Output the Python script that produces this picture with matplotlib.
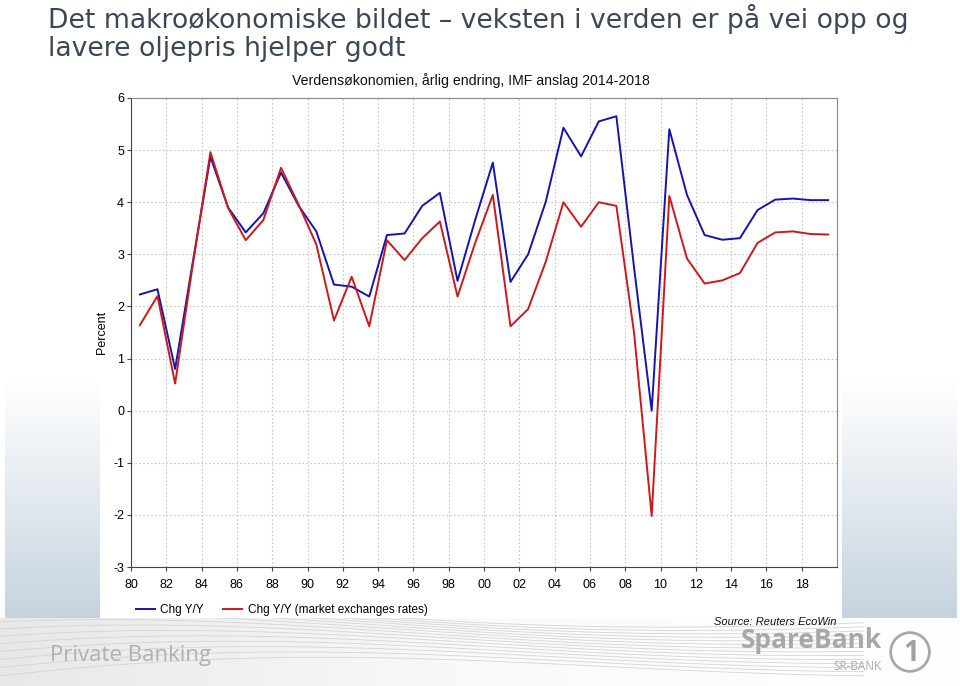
import numpy as np
import matplotlib
matplotlib.use("Agg")
import matplotlib.pyplot as plt
from matplotlib.patches import Circle
from matplotlib.lines import Line2D
from matplotlib.colors import LinearSegmentedColormap

years = list(range(1980, 2020))
chg_yy = [2.23, 2.33, 0.80, 2.85, 4.87, 3.90, 3.42, 3.79, 4.57, 3.93,
          3.44, 2.42, 2.38, 2.19, 3.37, 3.40, 3.93, 4.18, 2.49, 3.66,
          4.76, 2.47, 3.00, 4.01, 5.43, 4.88, 5.55, 5.65, 2.75, 0.00,
          5.40, 4.14, 3.37, 3.28, 3.31, 3.85, 4.05, 4.07, 4.04, 4.04]
chg_yy_mkt = [1.64, 2.20, 0.52, 2.80, 4.96, 3.89, 3.27, 3.66, 4.66, 3.95,
              3.19, 1.73, 2.57, 1.62, 3.27, 2.89, 3.31, 3.63, 2.19, 3.22,
              4.14, 1.62, 1.95, 2.86, 4.00, 3.53, 4.00, 3.93, 1.50, -2.02,
              4.12, 2.92, 2.44, 2.50, 2.64, 3.22, 3.42, 3.44, 3.39, 3.38]
tick_years = list(range(1980, 2019, 2))
tick_labels = [f"{y % 100:02d}" for y in tick_years]
y_ticks = list(range(-3, 7))

series_names = ["Chg Y/Y", "Chg Y/Y (market exchanges rates)"]
title = "Det makroøkonomiske bildet – veksten i verden er på vei opp og\nlavere oljepris hjelper godt"
subtitle = "Verdensøkonomien, årlig endring, IMF anslag 2014-2018"

NARROW = ["Liberation Sans Narrow", "Liberation Sans", "DejaVu Sans"]
BLUE = "#1414b4"
RED = "#d01818"

fig = plt.figure(figsize=(9.6, 6.86), dpi=100)
fig.patch.set_facecolor("white")


def grad_panel(x0, x1, y0, y1):
    grad = np.linspace(0, 1, 256).reshape(-1, 1)
    cm = LinearSegmentedColormap.from_list("g", ["#c6d3df", "#ffffff"])
    ax_bg = fig.add_axes([x0 / 960, 1 - y1 / 686, (x1 - x0) / 960, (y1 - y0) / 686], zorder=0)
    ax_bg.imshow(grad, aspect="auto", cmap=cm, origin="lower", extent=[0, 1, 0, 1])
    ax_bg.axis("off")


grad_panel(5, 100, 380, 618)
grad_panel(842, 957, 380, 618)

# bottom band
band = fig.add_axes([0, 0, 1, 68 / 686], zorder=0)
cmb = LinearSegmentedColormap.from_list("b", ["#e8e8e8", "#fafafa", "#ffffff"])
band.imshow(np.linspace(0, 1, 256).reshape(1, -1), aspect="auto", cmap=cmb, extent=[0, 1, 0, 1])
t = np.linspace(0, 1, 200)
for k in range(14):
    band.plot(t * 0.9, 0.15 + 0.06 * k + 0.5 * np.sin(np.pi * t * 0.9 + k * 0.12) * (1 - t),
              color="#d4d4d4", lw=0.6)
band.set_xlim(0, 1)
band.set_ylim(0, 1)
band.axis("off")

# main axes
ax = fig.add_axes([131 / 960, 1 - 567 / 686, (837 - 131) / 960, (567 - 98) / 686], zorder=2)
x = np.array(years) + 0.5
ax.plot(x, chg_yy, color=BLUE, lw=1.4, label=series_names[0], zorder=3)
ax.plot(x, chg_yy_mkt, color=RED, lw=1.4, label=series_names[1], zorder=3)
ax.set_xlim(1980, 2020)
ax.set_ylim(-3, 6)
ax.set_xticks(tick_years)
ax.set_xticklabels(tick_labels, fontfamily=NARROW, fontsize=9)
ax.set_yticks(y_ticks)
ax.set_yticklabels([str(v) for v in y_ticks], fontfamily=NARROW, fontsize=9)
ax.grid(True, color="#c8c8c8", linestyle=(0, (1.5, 2)), lw=0.8)
ax.tick_params(axis="y", length=3, width=0.8, color="#444444", pad=2)
ax.tick_params(axis="x", length=3, width=0.8, color="#444444", pad=6)
for side in ["left", "bottom"]:
    ax.spines[side].set_color("#444444")
for side in ["top", "right"]:
    ax.spines[side].set_color("#888888")
ax.set_ylabel("Percent", fontfamily=NARROW, fontsize=9, labelpad=4)
ax.set_facecolor("white")

# titles
fig.text(48 / 960, 1 - 4 / 686, title, ha="left", va="top", fontsize=19.2,
         color="#3b4756", fontfamily="DejaVu Sans", linespacing=1.12)
fig.text(471 / 960, 1 - 81 / 686, subtitle, ha="center", va="center",
         fontsize=10.2, fontfamily=NARROW, color="#111111")

# legend
handles = [Line2D([], [], color=BLUE, lw=1.4), Line2D([], [], color=RED, lw=1.4)]
fig.legend(handles, series_names, loc="center left", bbox_to_anchor=(125 / 960, 1 - 610 / 686),
           ncol=2, frameon=False, handlelength=1.6, handletextpad=0.5, columnspacing=1.6,
           prop={"family": NARROW, "size": 8.5})

fig.text(836 / 960, 1 - 622 / 686, "Source: Reuters EcoWin", ha="right", va="center",
         fontsize=8, style="italic", fontfamily=NARROW, color="#111111")

# footer branding
fig.text(50 / 960, 1 - 656 / 686, "Private Banking", ha="left", va="center",
         fontsize=16, color="#b0b0b0", fontfamily="Open Sans")
fig.text(882 / 960, 1 - 641 / 686, "SpareBank", ha="right", va="center",
         fontsize=19, color="#a8a8a8", fontweight="bold", fontfamily="Open Sans")
fig.text(882 / 960, 1 - 667 / 686, "SR-BANK", ha="right", va="center",
         fontsize=8.5, color="#a8a8a8", fontfamily="Open Sans")
logo_ax = fig.add_axes([888 / 960, 1 - 674 / 686, 44 / 960, 44 / 686], zorder=3)
logo_ax.add_patch(Circle((0.5, 0.5), 0.44, fill=False, ec="#a8a8a8", lw=2))
logo_ax.text(0.52, 0.47, "1", ha="center", va="center", fontsize=20, fontweight="bold",
             color="#a0a0a0", fontfamily="Open Sans")
logo_ax.set_xlim(0, 1)
logo_ax.set_ylim(0, 1)
logo_ax.set_aspect("equal")
logo_ax.axis("off")

fig.savefig("out.png", dpi=100)
